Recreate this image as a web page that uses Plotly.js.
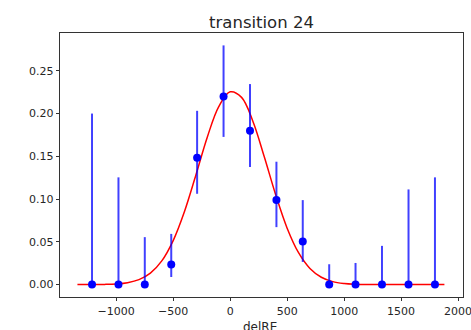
<!DOCTYPE html>
<html>
<head>
<meta charset="utf-8">
<script src="https://cdn.plot.ly/plotly-3.0.1.min.js"></script>
<style>html,body{margin:0;padding:0;background:#fff;}#chart{width:471px;height:330px;}</style>
</head>
<body>
<div id="chart"></div>
<script>
// Data points (bin centres) and their values with asymmetric error bars
const binX = [-1212, -980, -749, -517, -290, -58, 174, 406, 637, 869, 1100, 1332, 1565, 1797];
const binY = [0, 0, 0, 0.0234, 0.1484, 0.2199, 0.180, 0.0988, 0.0504, 0, 0, 0, 0, 0];
const errPlus = [0.200, 0.1254, 0.0555, 0.0359, 0.0548, 0.0598, 0.0545, 0.0449, 0.0484, 0.0238, 0.0253, 0.0453, 0.1113, 0.1254];
const errMinus = [0, 0, 0, 0.0145, 0.0422, 0.0472, 0.0425, 0.0316, 0.0239, 0, 0, 0, 0, 0];

// Fitted curve
const fitX = [-1340, -1200, -1100, -1000, -900, -800, -700, -600, -500, -400, -300, -200, -100, 0, 100, 200, 300, 400, 500, 600, 700, 800, 900, 1000, 1100, 1200, 1400, 1600, 1880];
const fitY = [0.00001, 0.00007, 0.00025, 0.00078, 0.00225, 0.00578, 0.01336, 0.0277, 0.0515, 0.0858, 0.1285, 0.1727, 0.2082, 0.2254, 0.2189, 0.1908, 0.1492, 0.1048, 0.0660, 0.0373, 0.0189, 0.0086, 0.0035, 0.0013, 0.00042, 0.0001, 0, 0, 0];

const xTicks = [-1000, -500, 0, 500, 1000, 1500, 2000];
const yTicks = [0, 0.05, 0.10, 0.15, 0.20, 0.25];
const xLabel = 'delRE';

const traces = [
  {
    x: fitX, y: fitY, type: 'scatter', mode: 'lines',
    line: {color: '#ff0000', width: 1.5, shape: 'spline', smoothing: 1},
    hoverinfo: 'skip', showlegend: false
  },
  {
    x: binX, y: binY, type: 'scatter', mode: 'markers',
    marker: {color: '#0000ff', size: 8},
    error_y: {type: 'data', symmetric: false, array: errPlus, arrayminus: errMinus,
              color: 'rgba(0,0,255,0.75)', thickness: 2, width: 0},
    showlegend: false
  }
];

const axisFont = {family: 'DejaVu Sans', size: 11, color: '#262626'};

const layout = {
  width: 471, height: 330,
  margin: {l: 60, r: 8, t: 33, b: 33, pad: 0},
  paper_bgcolor: '#ffffff', plot_bgcolor: '#ffffff',
  showlegend: false,
  title: {text: 'transition 24', font: {family: 'DejaVu Sans', size: 16.5, color: '#262626'},
          x: 0.5, xanchor: 'center', xref: 'paper', y: 0.933, yref: 'container', yanchor: 'middle'},
  xaxis: {
    range: [-1493, 2043], tickvals: xTicks, ticks: 'outside', ticklen: 3.5, tickwidth: 0.8,
    tickcolor: '#000', showline: true, linecolor: '#000', linewidth: 0.8, mirror: true,
    showgrid: false, zeroline: false, tickfont: axisFont, ticklabeloverflow: 'allow',
    automargin: false
  },
  yaxis: {
    range: [-0.0145, 0.2942], tickvals: yTicks, tickformat: '.2f', ticks: 'outside', ticklen: 3.5, tickwidth: 0.8,
    tickcolor: '#000', showline: true, linecolor: '#000', linewidth: 0.8, mirror: true,
    showgrid: false, zeroline: false, tickfont: axisFont, automargin: false
  },
  annotations: [{
    text: xLabel, xref: 'paper', yref: 'paper', x: 0.497, y: -0.115,
    xanchor: 'center', yanchor: 'middle', showarrow: false,
    font: {family: 'DejaVu Sans', size: 12, color: '#262626'}
  }]
};

Plotly.newPlot('chart', traces, layout, {displayModeBar: false, staticPlot: true});
</script>
</body>
</html>
